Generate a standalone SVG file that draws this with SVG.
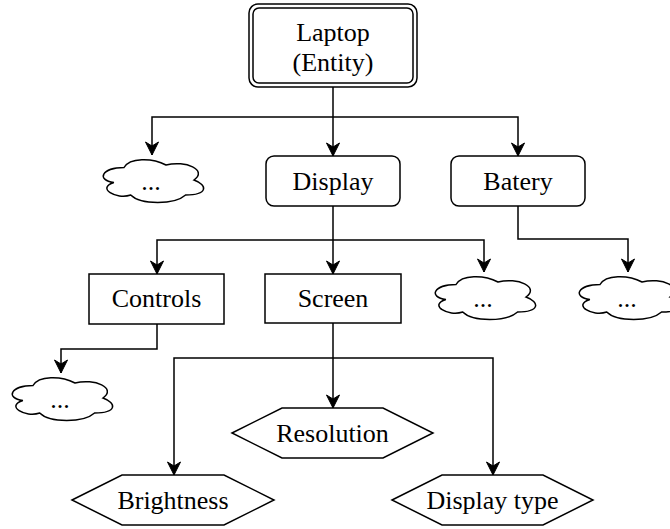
<svg xmlns="http://www.w3.org/2000/svg" xmlns:xlink="http://www.w3.org/1999/xlink" width="670" height="529" viewBox="0 0 670 529">
  <style>
    .box { fill: #ffffff; stroke: #000000; stroke-width: 1.5; }
    .edge { fill: none; stroke: #000000; stroke-width: 1.5; }
    .lbl { font-family: "Liberation Serif", "Times New Roman", serif; font-size: 26px; fill: #000000; text-anchor: middle; }
  </style>
  <defs>
    <marker id="arrow" markerUnits="userSpaceOnUse" markerWidth="16" markerHeight="16" viewBox="-14 -8 16 16" refX="0" refY="0" orient="auto" overflow="visible">
      <path d="M 0 0 L -13 -6.5 L -9 0 L -13 6.5 Z" fill="#000000" stroke="#000000" stroke-width="1"/>
    </marker>
    <path id="cloud" d="M 28 12.5 C 5.6 12.5 0 25 17.9 27.5 C 0 33 20.2 45 34.7 40 C 44.8 50 78.4 50 89.6 40 C 112 40 112 30 98 25 C 112 15 89.6 5 70 10 C 56 2.5 33.6 2.5 28 12.5 Z"/>
  </defs>
  <rect width="670" height="529" fill="#ffffff"/>

  <g id="connectors">
    <path class="edge" d="M 333 87 L 333 156" marker-end="url(#arrow)"/>
    <path class="edge" d="M 333 117 L 152 117 L 152 155" marker-end="url(#arrow)"/>
    <path class="edge" d="M 333 117 L 518 117 L 518 156" marker-end="url(#arrow)"/>
    <path class="edge" d="M 333 206 L 333 274" marker-end="url(#arrow)"/>
    <path class="edge" d="M 333 240 L 157 240 L 157 274" marker-end="url(#arrow)"/>
    <path class="edge" d="M 333 240 L 484 240 L 484 272" marker-end="url(#arrow)"/>
    <path class="edge" d="M 518 206 L 518 239 L 628 239 L 628 272" marker-end="url(#arrow)"/>
    <path class="edge" d="M 157 324 L 157 349 L 61 349 L 61 373" marker-end="url(#arrow)"/>
    <path class="edge" d="M 333 323 L 333 408" marker-end="url(#arrow)"/>
    <path class="edge" d="M 333 358 L 174 358 L 174 475" marker-end="url(#arrow)"/>
    <path class="edge" d="M 333 358 L 493 358 L 493 475" marker-end="url(#arrow)"/>
  </g>

  <g id="laptop">
    <rect class="box" x="249" y="4" width="168" height="83" rx="9" ry="9"/>
    <rect class="box" x="253" y="8" width="160" height="75" rx="6" ry="6"/>
    <text class="lbl" x="333" y="41">Laptop</text>
    <text class="lbl" x="333" y="71">(Entity)</text>
  </g>

  <g id="cloud1">
    <use xlink:href="#cloud" href="#cloud" class="box" transform="translate(96,155)"/>
    <text class="lbl" x="151" y="190">...</text>
  </g>

  <g id="display">
    <rect class="box" x="266" y="156" width="134" height="50" rx="8" ry="8"/>
    <text class="lbl" x="333" y="190">Display</text>
  </g>

  <g id="batery">
    <rect class="box" x="451" y="156" width="134" height="50" rx="8" ry="8"/>
    <text class="lbl" x="518" y="190">Batery</text>
  </g>

  <g id="controls">
    <rect class="box" x="89" y="274" width="135" height="50"/>
    <text class="lbl" x="156.5" y="307">Controls</text>
  </g>

  <g id="screen">
    <rect class="box" x="265" y="274" width="136" height="49"/>
    <text class="lbl" x="333" y="307">Screen</text>
  </g>

  <g id="cloud2">
    <use xlink:href="#cloud" href="#cloud" class="box" transform="translate(428,272)"/>
    <text class="lbl" x="483" y="307">...</text>
  </g>

  <g id="cloud3">
    <use xlink:href="#cloud" href="#cloud" class="box" transform="translate(572,272)"/>
    <text class="lbl" x="627" y="307">...</text>
  </g>

  <g id="cloud4">
    <use xlink:href="#cloud" href="#cloud" class="box" transform="translate(5,373)"/>
    <text class="lbl" x="60" y="408">...</text>
  </g>

  <g id="resolution">
    <polygon class="box" points="232,433 282,408 383,408 433,433 383,458 282,458"/>
    <text class="lbl" x="332.5" y="442">Resolution</text>
  </g>

  <g id="brightness">
    <polygon class="box" points="72,500 122,475 224,475 274,500 224,525 122,525"/>
    <text class="lbl" x="173" y="509">Brightness</text>
  </g>

  <g id="displaytype">
    <polygon class="box" points="392,500 442,475 543,475 593,500 543,525 442,525"/>
    <text class="lbl" x="492.5" y="509">Display type</text>
  </g>
</svg>
